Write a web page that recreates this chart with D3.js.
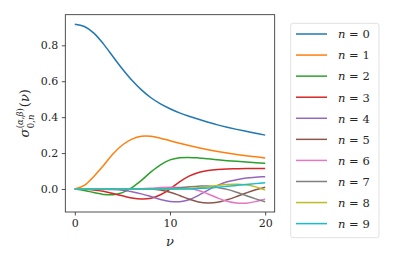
<!DOCTYPE html>
<meta charset="utf-8">
<style>
body{ margin:0; background:#fff; }
svg text{ font-family: "DejaVu Serif", "Liberation Serif", "Times New Roman", serif; fill:#262626; }
</style>
<body>
<div id="chart"></div>
<script src="https://d3js.org/d3.v7.min.js"></script>
<script>
// sigma_{0,n}^{(alpha,beta)}(nu), values
var nu = d3.range(0, 21);
var s0 = [0.917, 0.905, 0.868, 0.808, 0.738, 0.668, 0.605, 0.552, 0.508, 0.474, 0.447, 0.424, 0.405, 0.388, 0.372, 0.357, 0.344, 0.332, 0.321, 0.310, 0.300];
var s1 = [0, 0.020, 0.070, 0.130, 0.195, 0.245, 0.278, 0.294, 0.294, 0.283, 0.269, 0.255, 0.242, 0.230, 0.219, 0.209, 0.200, 0.192, 0.185, 0.179, 0.173];
var s2 = [0, -0.008, -0.020, -0.030, -0.032, -0.020, 0.008, 0.048, 0.095, 0.135, 0.162, 0.174, 0.176, 0.173, 0.168, 0.163, 0.158, 0.154, 0.150, 0.146, 0.143];
var s3 = [0, -0.001, -0.005, -0.013, -0.025, -0.038, -0.050, -0.056, -0.052, -0.032, 0.000, 0.040, 0.072, 0.092, 0.103, 0.109, 0.112, 0.113, 0.114, 0.114, 0.114];
var s4 = [0, 0, 0, -0.001, -0.003, -0.007, -0.015, -0.027, -0.042, -0.058, -0.069, -0.071, -0.060, -0.035, -0.006, 0.020, 0.040, 0.052, 0.061, 0.066, 0.069];
var s5 = [0, 0, 0, 0, 0, 0, 0.001, 0.002, 0.000, -0.006, -0.018, -0.036, -0.056, -0.072, -0.078, -0.074, -0.060, -0.042, -0.022, -0.004, 0.010];
var s6 = [0, 0, 0, 0, 0, 0, 0, 0.001, 0.004, 0.008, 0.010, 0.009, 0.004, -0.008, -0.028, -0.050, -0.068, -0.078, -0.079, -0.070, -0.056];
var s7 = [0, 0, 0, 0, 0, 0, 0, 0, 0, 0.001, 0.003, 0.007, 0.012, 0.016, 0.017, 0.008, -0.002, -0.018, -0.037, -0.055, -0.071];
var s8 = [0, 0, 0, 0, 0, 0, 0, 0, 0, 0, 0, 0.001, 0.003, 0.007, 0.013, 0.020, 0.025, 0.027, 0.024, 0.012, -0.006];
var s9 = [0, 0, 0, 0, 0, 0, 0, 0, 0, 0, 0, 0, 0, 0.003, 0.006, 0.010, 0.015, 0.020, 0.025, 0.030, 0.035];
var series = [s0, s1, s2, s3, s4, s5, s6, s7, s8, s9];
var labels = ["0", "1", "2", "3", "4", "5", "6", "7", "8", "9"];
var xTicks = [0, 10, 20];
var yTicks = [0.0, 0.2, 0.4, 0.6, 0.8];
var colors = ["#1f77b4","#ff7f0e","#2ca02c","#d62728","#9467bd","#8c564b","#e377c2","#7f7f7f","#bcbd22","#17becf"];

var W = 399, H = 266;
var plot = {left: 65.3, right: 274.7, top: 14.7, bottom: 212};
var serif = "DejaVu Serif, Liberation Serif, serif";

var svg = d3.select("#chart").append("svg").attr("width", W).attr("height", H);

var x = d3.scaleLinear().domain([-1, 21]).range([plot.left, plot.right]);
var y = d3.scaleLinear().domain([-0.128, 0.9705]).range([plot.bottom, plot.top]);

var line = d3.line()
	.x(function(d, i){ return x(nu[i]); })
	.y(function(d){ return y(d); })
	.curve(d3.curveCatmullRom.alpha(0.5));

svg.append("g").selectAll("path")
	.data(series).enter()
	.append("path")
	.attr("d", line)
	.attr("fill", "none")
	.attr("stroke", function(d, i){ return colors[i]; })
	.attr("stroke-width", 1.5);

// axes
var xaxis = d3.axisBottom(x).tickValues(xTicks).tickSize(3.5).tickPadding(3.5).tickFormat(d3.format("d"));
var yaxis = d3.axisLeft(y).tickValues(yTicks).tickSize(3.5).tickPadding(3.5).tickFormat(d3.format(".1f"));

svg.append("g").attr("transform", "translate(0," + plot.bottom + ")").call(xaxis)
	.attr("font-family", serif).attr("font-size", 11)
	.call(function(g){ g.select(".domain").remove(); });
svg.append("g").attr("transform", "translate(" + plot.left + ",0)").call(yaxis)
	.attr("font-family", serif).attr("font-size", 11)
	.call(function(g){ g.select(".domain").remove(); });
svg.selectAll(".tick line").attr("stroke", "#262626").attr("stroke-width", 0.8);

svg.append("rect")
	.attr("x", plot.left).attr("y", plot.top)
	.attr("width", plot.right - plot.left).attr("height", plot.bottom - plot.top)
	.attr("fill", "none").attr("stroke", "#262626").attr("stroke-width", 0.8);

// x label
svg.append("text").attr("x", (plot.left + plot.right) / 2).attr("y", 246)
	.attr("text-anchor", "middle").attr("font-size", 13).attr("font-style", "italic").text("ν");

// y label, built from pieces so sub and superscript stack
var yl = svg.append("g");
var inner = yl.append("g");
var t1 = inner.append("text").attr("x", 0).attr("y", 0).attr("font-size", 13).attr("font-style", "italic").text("σ");
var w1 = t1.node().getComputedTextLength() + 0.5;
var sup = inner.append("text").attr("x", w1).attr("y", -6).attr("font-size", 8.5).text("(");
sup.append("tspan").attr("font-style", "italic").text("α");
sup.append("tspan").text(",");
sup.append("tspan").attr("font-style", "italic").text("β");
sup.append("tspan").text(")");
var sub = inner.append("text").attr("x", w1).attr("y", 4.5).attr("font-size", 8.5).text("0,");
sub.append("tspan").attr("font-style", "italic").text("n");
var w2 = Math.max(sup.node().getComputedTextLength(), sub.node().getComputedTextLength());
var t4 = inner.append("text").attr("x", w1 + w2 + 1).attr("y", 0).attr("font-size", 13).text("(");
t4.append("tspan").attr("font-style", "italic").text("ν");
t4.append("tspan").text(")");
var total = w1 + w2 + 1 + t4.node().getComputedTextLength();
inner.attr("transform", "translate(" + (-total / 2) + ",0)");
yl.attr("transform", "translate(29," + ((plot.top + plot.bottom) / 2) + ") rotate(-90)");

// legend
var leg = {x: 290.7, y: 23.3, w: 88.3, h: 214.4, step: 21.07, first: 34};
svg.append("rect")
	.attr("x", leg.x).attr("y", leg.y).attr("width", leg.w).attr("height", leg.h)
	.attr("rx", 2.5).attr("fill", "#fff").attr("stroke", "#d9d9d9").attr("stroke-width", 0.8);

var items = svg.selectAll(".leg").data(labels).enter().append("g")
	.attr("class", "leg")
	.attr("transform", function(d, i){ return "translate(0," + (leg.first + leg.step * i) + ")"; });
items.append("line")
	.attr("x1", 296).attr("x2", 327).attr("y1", 0).attr("y2", 0)
	.attr("stroke", function(d, i){ return colors[i]; }).attr("stroke-width", 1.5);
var lt = items.append("text").attr("x", 338).attr("y", 4.3).attr("font-size", 11.5);
lt.append("tspan").attr("font-style", "italic").text("n");
lt.append("tspan").text(" = ");
lt.append("tspan").text(function(d){ return d; });
</script>
</body>
